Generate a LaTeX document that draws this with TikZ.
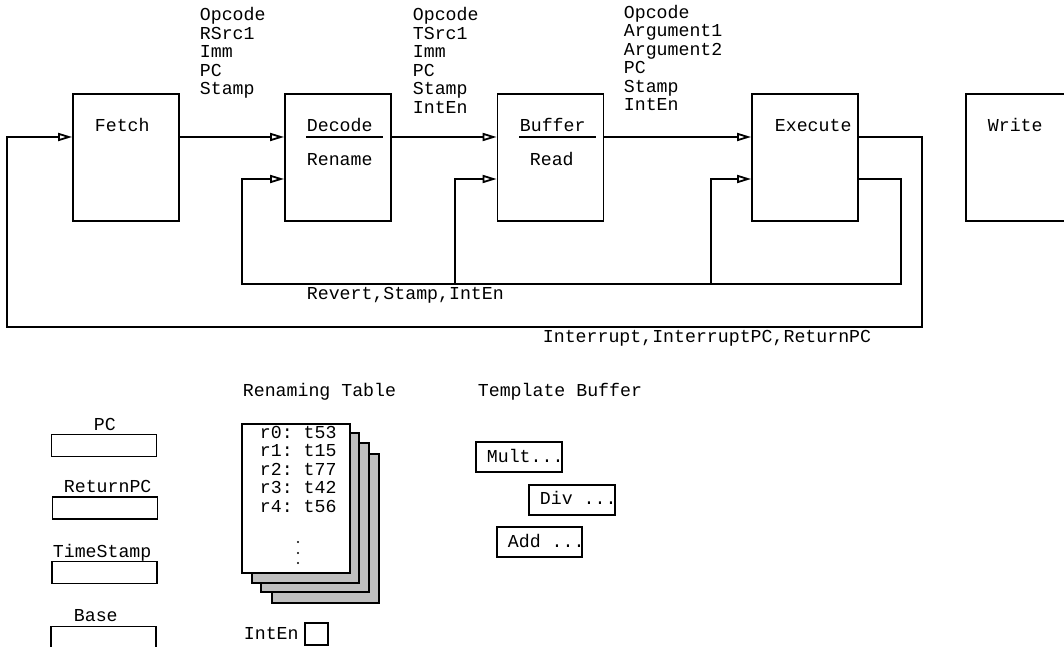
\documentclass[tikz,border=0pt]{standalone}
\usepackage{fontspec}
\setmonofont{Liberation Mono}
\usetikzlibrary{arrows.meta}
\begin{document}
\begin{tikzpicture}[x=1bp,y=-1bp,line width=1.8bp,
  txt/.style={font=\fontsize{18.3}{18.5}\selectfont\ttfamily,inner sep=0pt,anchor=base west},
  stage/.style={draw,minimum width=106bp,minimum height=127bp,inner sep=0pt},
  reg/.style={draw,minimum width=105bp,minimum height=22bp,inner sep=0pt},
  tbox/.style={draw,minimum width=86bp,minimum height=30bp,inner sep=0pt},
  arr/.style={-{Triangle[open,length=14bp,width=8bp]}}]
\useasboundingbox (0,0) rectangle (1064,647);
\clip (0,0) rectangle (1064,647);
% stages
\node[stage] (fetch) at (126,157.5) {};
\node[stage] (decode) at (338,157.5) {};
\node[stage] (buffer) at (550.5,157.5) {};
\node[stage] (exec) at (805,157.5) {};
\node[stage,minimum width=100bp] (write) at (1016,157.5) {};
\node[txt] (tfetch) at (94,131.5) {Fetch};
\node[txt] (tdecode) at (306,131.5) {Decode};
\node[txt] (trename) at (306,166) {Rename};
\node[txt] (tbuffer) at (519,131.5) {Buffer};
\node[txt] (tread) at (529,166) {Read};
\node[txt] (texec) at (774,131.5) {Execute};
\node[txt] (twrite) at (987,131.5) {Write};
\draw (306,137) -- (383,137);
\draw (519,137) -- (596,137);
% connectors
\coordinate (r1) at (0,137);
\coordinate (r2) at (0,179);
\draw[arr] (fetch.east |- r1) -- (decode.west |- r1);
\draw[arr] (decode.east |- r1) -- (buffer.west |- r1);
\draw[arr] (buffer.east |- r1) -- (exec.west |- r1);
\coordinate (oR) at (922,327);
\coordinate (oL) at (7,327);
\draw[arr] (exec.east |- r1) -| (oR) -- (oL) |- (fetch.west |- r1);
\coordinate (iR) at (901,284);
\coordinate (iL) at (242,284);
\draw[arr] (exec.east |- r2) -| (iR) -- (iL) |- (decode.west |- r2);
\coordinate (jB) at (455,284);
\coordinate (jE) at (711,284);
\draw[arr] (jB) |- (buffer.west |- r2);
\draw[arr] (jE) |- (exec.west |- r2);
% bus labels
\foreach \t [count=\i] in {Opcode,RSrc1,Imm,PC,Stamp}
  \node[txt] (la\i) at (199,{21+18.5*(\i-1)}) {\t};
\foreach \t [count=\i] in {Opcode,TSrc1,Imm,PC,Stamp,IntEn}
  \node[txt] (lb\i) at (412,{21+18.5*(\i-1)}) {\t};
\foreach \t [count=\i] in {Opcode,Argument1,Argument2,PC,Stamp,IntEn}
  \node[txt] (lc\i) at (623,{18.5+18.5*(\i-1)}) {\t};
\node[txt] (revert) at (306,300) {Revert,Stamp,IntEn};
\node[txt] (intr) at (542,342) {Interrupt,InterruptPC,ReturnPC};
% registers
\node[txt] (lpc) at (93,430) {PC};
\node[reg] (pc) at (104,445.5) {};
\node[txt] (lret) at (63,492) {ReturnPC};
\node[reg] (ret) at (105,508) {};
\node[txt] (lts) at (52,557) {TimeStamp};
\node[reg] (ts) at (104.5,572.5) {};
\node[txt] (lbase) at (73,621) {Base};
\node[reg] (base) at (103.5,637.5) {};
% renaming table
\node[txt] (lren) at (242,396) {Renaming Table};
\filldraw[fill=gray!50] (272,454) rectangle (379,603);
\filldraw[fill=gray!50] (261,443) rectangle (369,592);
\filldraw[fill=gray!50] (252,433) rectangle (359,583);
\filldraw[fill=white] (242,424) rectangle (350,573);
\foreach \t [count=\i] in {r0: t53,r1: t15,r2: t77,r3: t42,r4: t56}
  \node[txt] (rt\i) at (259,{438+18.5*(\i-1)}) {\t};
\foreach \yy in {542,553,563} \fill (298,\yy) circle (1.2bp);
\node[txt] (linten) at (243,639) {IntEn};
\draw (305,623) rectangle (328,645);
% template buffer
\node[txt] (ltb) at (477,396) {Template Buffer};
\node[tbox] (mult) at (519,457) {};
\node[txt] (tmult) at (486,462) {Mult...};
\node[tbox] (div) at (572,500) {};
\node[txt] (tdiv) at (539,504) {Div ...};
\node[tbox,minimum width=85bp] (add) at (539.5,542) {};
\node[txt] (tadd) at (507,547) {Add ...};
\end{tikzpicture}
\end{document}
